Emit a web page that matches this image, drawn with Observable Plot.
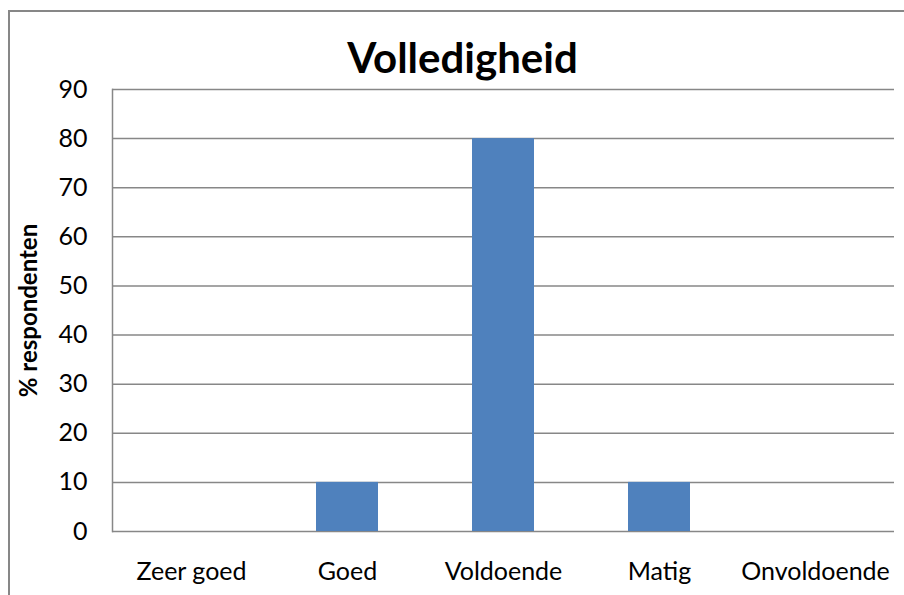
<!DOCTYPE html>
<html><head><meta charset="utf-8">
<script src="https://cdn.jsdelivr.net/npm/d3@7"></script>
<script src="https://cdn.jsdelivr.net/npm/@observablehq/plot@0.6"></script>
<style>
html,body{margin:0;padding:0;background:#fff;overflow:hidden}
#wrap{position:relative;width:904px;height:595px;overflow:hidden}
#border{position:absolute;left:8px;top:10px;width:1000px;height:1000px;border:2px solid #878787;box-sizing:border-box}
#chart{position:absolute;left:0;top:0}
</style></head><body>
<div id="wrap"><div id="border"></div><div id="chart"></div></div>
<script>
const categories = ["Zeer goed", "Goed", "Voldoende", "Matig", "Onvoldoende"];
const values = [0, 10, 80, 10, 0];
const yTicks = [0, 10, 20, 30, 40, 50, 60, 70, 80, 90];
const title = "Volledigheid";
const yLabel = "% respondenten";

const data = categories.map((c, i) => ({category: c, value: values[i]}));
const font = "Lato, 'Open Sans', sans-serif";
const plot = Plot.plot({
  width: 904, height: 595,
  marginLeft: 112, marginRight: 10, marginTop: 89, marginBottom: 64,
  style: {fontFamily: font, fontSize: "25px", color: "#000", background: "transparent", overflow: "visible"},
  x: {domain: categories, paddingInner: 0.6, paddingOuter: 0.3, axis: null},
  y: {domain: [0, 90], axis: null},
  marks: [
    Plot.ruleY(yTicks, {stroke: "#878787", strokeWidth: 1.5}),
    Plot.frame({anchor: "left", stroke: "#878787", strokeWidth: 1.5}),
    Plot.barY(data, {x: "category", y: "value", fill: "#4F81BD"}),
    Plot.axisY({ticks: yTicks, tickSize: 0, tickPadding: 25, fontSize: 25, label: null}),
    Plot.axisX({tickSize: 0, tickPadding: 31, fontSize: 25, label: null}),
    Plot.text([title], {frameAnchor: "top", lineAnchor: "middle", textAnchor: "middle", dx: -41, dy: -30, fontSize: 42, fontWeight: "bold"}),
    Plot.text([yLabel], {frameAnchor: "left", lineAnchor: "middle", textAnchor: "middle", rotate: -90, dx: -83, fontSize: 24, fontWeight: "bold"})
  ]
});
document.getElementById("chart").appendChild(plot);
</script>
</body></html>
